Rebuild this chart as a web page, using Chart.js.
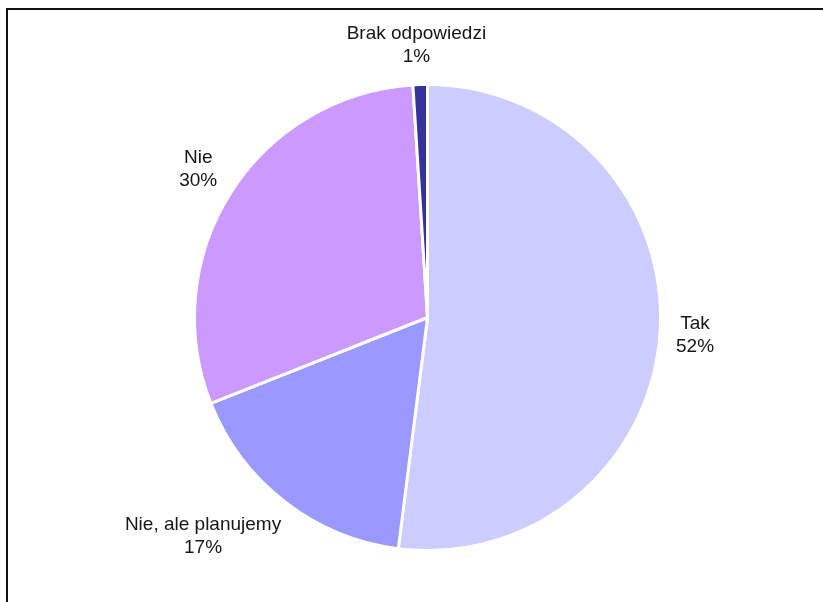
<!DOCTYPE html>
<html>
<head>
<meta charset="utf-8">
<script src="https://cdn.jsdelivr.net/npm/chart.js@4"></script>
<style>
  html, body { margin: 0; padding: 0; background: #fff; }
  #wrap { position: relative; width: 823px; height: 602px; }
  #frame { position: absolute; left: 6px; top: 8px; right: -10px; bottom: -10px;
           border-left: 2px solid #111; border-top: 2px solid #111; }
  canvas { position: absolute; left: 0; top: 0; }
</style>
</head>
<body>
<div id="wrap">
  <div id="frame"></div>
  <canvas id="pie" width="823" height="602"></canvas>
</div>
<script>
// answers to the survey question, in percent
const labels = ['Tak', 'Nie, ale planujemy', 'Nie', 'Brak odpowiedzi']
const values = [52, 17, 30, 1]
const colors = ['#CCCCFF', '#9999FF', '#CC99FF', '#333399']

// draws "name / xx%" outside each slice
const outsideLabels = {
  id: 'outsideLabels',
  afterDatasetsDraw(chart) {
    const ctx = chart.ctx
    const meta = chart.getDatasetMeta(0)
    ctx.save()
    ctx.font = '19px "Liberation Sans", Arial, sans-serif'
    ctx.fillStyle = '#161616'
    ctx.textAlign = 'center'
    ctx.textBaseline = 'middle'
    const lineH = 23
    meta.data.forEach((arc, i) => {
      const p = arc.getProps(['x', 'y', 'startAngle', 'endAngle', 'outerRadius'], true)
      const mid = (p.startAngle + p.endAngle) / 2
      const dx = Math.cos(mid), dy = Math.sin(mid)
      const r = p.outerRadius + 16
      const ax = p.x + dx * r, ay = p.y + dy * r
      const lines = [labels[i], values[i] + '%']
      const w = Math.max(...lines.map(t => ctx.measureText(t).width))
      const h = lines.length * lineH
      //push the text box away from the pie so its edge sits on the anchor
      const kx = Math.max(-1, Math.min(1, dx * 1.5))
      const ky = Math.max(-1, Math.min(1, dy * 1.2))
      const cx = ax + kx * w / 2
      const cy = ay + ky * h / 2
      lines.forEach((t, j) => {
        ctx.fillText(t, cx, cy - h / 2 + lineH / 2 + j * lineH)
      })
    })
    ctx.restore()
  }
}

new Chart(document.getElementById('pie').getContext('2d'), {
  type: 'pie',
  data: {
    labels: labels,
    datasets: [{
      data: values,
      backgroundColor: colors,
      borderColor: '#fff',
      borderWidth: 3
    }]
  },
  options: {
    responsive: false,
    animation: false,
    layout: { padding: { left: 193, right: 161, top: 83, bottom: 50 } },
    plugins: {
      legend: { display: false },
      tooltip: { enabled: false }
    }
  },
  plugins: [outsideLabels]
})
</script>
</body>
</html>
